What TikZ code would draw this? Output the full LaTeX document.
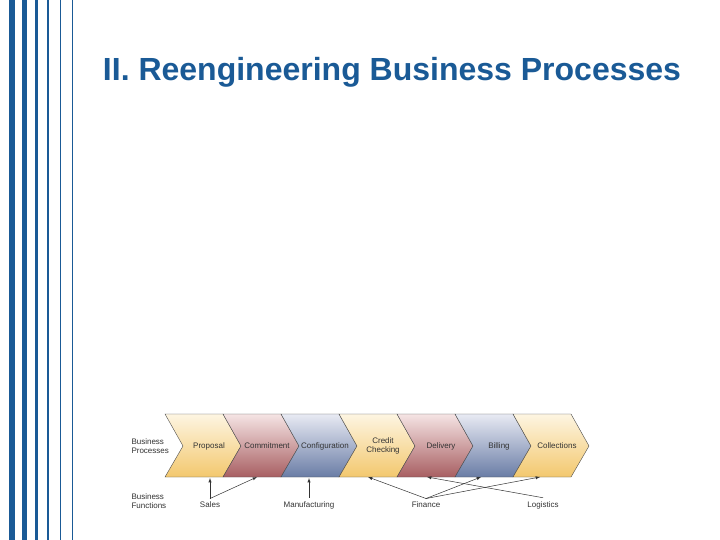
\documentclass[tikz,border=0pt]{standalone}
\usepackage{fontspec}
\setmainfont{Liberation Sans}
\begin{document}
\begin{tikzpicture}[x=1pt,y=-1pt,
  vbar/.style={draw=none,fill=barblue},
  ylw/.style={top color=ylwT,bottom color=ylwB,draw=black!70,line width=0.4pt},
  red/.style={top color=redT,bottom color=redB,draw=black!70,line width=0.4pt},
  blu/.style={top color=bluT,bottom color=bluB,draw=black!70,line width=0.4pt},
  lbl/.style={font=\fontsize{8}{8.5}\selectfont,text=black!80,align=center},
  side/.style={font=\fontsize{8}{9}\selectfont,text=black!80,align=left,anchor=west},
  arr/.style={-latex,black!80,line width=0.5pt}]
\definecolor{barblue}{HTML}{1A5A96}
\definecolor{ylwT}{HTML}{FDF5E2}\definecolor{ylwB}{HTML}{F3C86E}
\definecolor{redT}{HTML}{F5E4E4}\definecolor{redB}{HTML}{A85F62}
\definecolor{bluT}{HTML}{E8EAF3}\definecolor{bluB}{HTML}{6A7DA6}
\useasboundingbox (0,0) rectangle (720,540);
\fill[white] (0,0) rectangle (720,540);
\fill[vbar] (9,0) rectangle (15,540);
\fill[vbar] (22,0) rectangle (27,540);
\fill[vbar] (35,0) rectangle (38,540);
\fill[vbar] (47,0) rectangle (49,540);
\fill[vbar] (59.5,0) rectangle (61,540);
\fill[vbar] (72,0) rectangle (73,540);
\node[font=\bfseries\fontsize{32}{36}\selectfont,text=barblue] (title) at (392,72) {II. Reengineering Business Processes};
\foreach \i/\s/\t in {0/ylw/Proposal,1/red/Commitment,2/blu/Configuration,3/ylw/{Credit\\Checking},4/red/Delivery,5/blu/Billing,6/ylw/Collections}{
  \pgfmathsetmacro{\L}{165+58*\i}
  \path[\s] (\L,414) -- (\L+58,414) -- (\L+76,446) -- (\L+58,477) -- (\L,477) -- (\L+18,446) -- cycle;
  \node[lbl] (p\i) at (\L+44,446) {\t};
}
\coordinate (c0) at (210,478);
\coordinate (c1) at (257,477);
\coordinate (c2) at (309,478);
\coordinate (c3) at (368,477);
\coordinate (c4) at (427,477);
\coordinate (c5) at (481,477);
\coordinate (c6) at (540,477);
\node[side] (bp) at (128,446) {Business\\Processes};
\node[side] (bf) at (128,501) {Business\\Functions};
\node[lbl] (sales) at (210,505) {Sales};
\node[lbl] (man) at (309,505) {Manufacturing};
\node[lbl] (fin) at (426,505) {Finance};
\node[lbl] (log) at (543,505) {Logistics};
\draw[arr] (sales.north) -- (c0);
\draw[arr] (sales.north) -- (c1);
\draw[arr] (man.north) -- (c2);
\draw[arr] (fin.north) -- (c3);
\draw[arr] (fin.north) -- (c5);
\draw[arr] (fin.north) -- (c6);
\draw[arr] (log.north) -- (c4);
\end{tikzpicture}
\end{document}
